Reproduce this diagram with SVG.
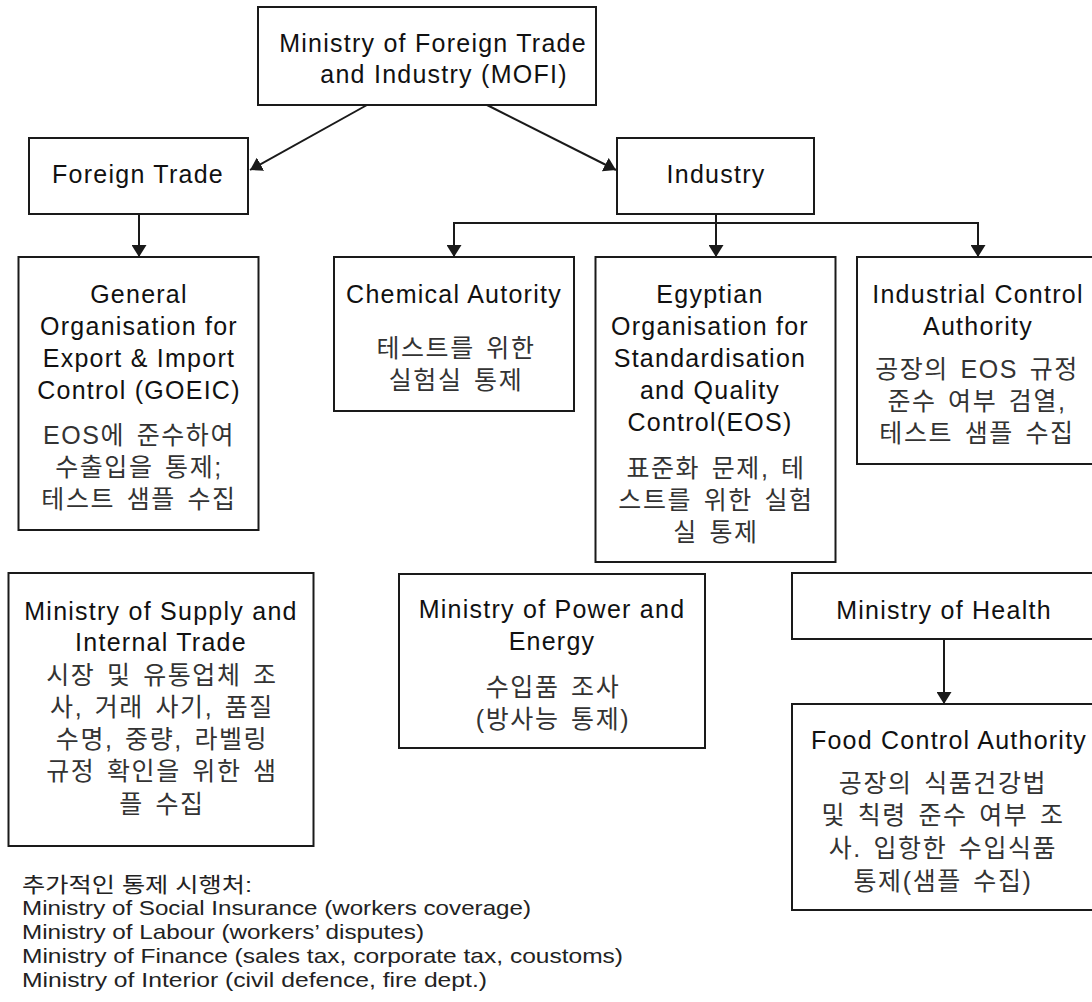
<svg xmlns="http://www.w3.org/2000/svg" width="1092" height="1002" viewBox="0 0 1092 1002">
<defs>
<style>
.box{fill:#fff;stroke:#1a1a1a;stroke-width:2}
.en{font-family:"Liberation Sans",Arial,sans-serif;font-size:25px;letter-spacing:1.25px;fill:#111;text-anchor:middle}
.ko{font-family:"Liberation Sans","Noto Sans CJK KR",sans-serif;font-size:25px;letter-spacing:1.6px;word-spacing:3px;fill:#333;text-anchor:middle}
.note{font-family:"Liberation Sans","Noto Sans CJK KR",sans-serif;font-size:21px;fill:#222}
.con{fill:none;stroke:#1a1a1a;stroke-width:2}
</style>
<marker id="ah" viewBox="0 0 12 15" markerWidth="12" markerHeight="15" refX="12" refY="7.5" orient="auto" markerUnits="userSpaceOnUse">
<path d="M0,0 L12,7.5 L0,15 z" fill="#1a1a1a"/>
</marker>
</defs>
<rect width="1092" height="1002" fill="#fff"/>

<g id="connectors">
<line class="con" x1="367" y1="105" x2="250" y2="170" marker-end="url(#ah)"/>
<line class="con" x1="487" y1="105" x2="616" y2="170" marker-end="url(#ah)"/>
<line class="con" x1="139" y1="214" x2="139" y2="257" marker-end="url(#ah)"/>
<line class="con" x1="716" y1="214" x2="716" y2="223"/>
<line class="con" x1="453" y1="223" x2="979" y2="223"/>
<line class="con" x1="454" y1="222" x2="454" y2="257" marker-end="url(#ah)"/>
<line class="con" x1="716" y1="222" x2="716" y2="257" marker-end="url(#ah)"/>
<line class="con" x1="978" y1="222" x2="978" y2="257" marker-end="url(#ah)"/>
<line class="con" x1="944" y1="639" x2="944" y2="704" marker-end="url(#ah)"/>
</g>

<g id="mofi">
<rect class="box" x="258" y="7" width="338" height="98"/>
<text class="en" x="433" y="52">Ministry of Foreign Trade</text>
<text class="en" x="444" y="83">and Industry (MOFI)</text>
</g>

<g id="foreign-trade">
<rect class="box" x="29" y="138" width="219" height="76"/>
<text class="en" x="138" y="183">Foreign Trade</text>
</g>

<g id="industry">
<rect class="box" x="617" y="138" width="197" height="76"/>
<text class="en" x="716" y="183">Industry</text>
</g>

<g id="goeic">
<rect class="box" x="18.5" y="257" width="240" height="273"/>
<text class="en" x="139" y="303">General</text>
<text class="en" x="139" y="335">Organisation for</text>
<text class="en" x="139" y="367">Export &amp; Import</text>
<text class="en" x="139" y="399">Control (GOEIC)</text>
<text class="ko" x="139" y="444">EOS에 준수하여</text>
<text class="ko" x="139" y="476">수출입을 통제;</text>
<text class="ko" x="139" y="508">테스트 샘플 수집</text>
</g>

<g id="chemical">
<rect class="box" x="334" y="257" width="240" height="154"/>
<text class="en" x="454" y="303">Chemical Autority</text>
<text class="ko" x="456" y="357">테스트를 위한</text>
<text class="ko" x="456" y="389">실험실 통제</text>
</g>

<g id="eos">
<rect class="box" x="595.5" y="257" width="240" height="305"/>
<text class="en" x="710" y="303">Egyptian</text>
<text class="en" x="710" y="335">Organisation for</text>
<text class="en" x="710" y="367">Standardisation</text>
<text class="en" x="710" y="399">and Quality</text>
<text class="en" x="710" y="431">Control(EOS)</text>
<text class="ko" x="716" y="477">표준화 문제, 테</text>
<text class="ko" x="716" y="509">스트를 위한 실험</text>
<text class="ko" x="716" y="541">실 통제</text>
</g>

<g id="industrial-control">
<rect class="box" x="857" y="257" width="250" height="207"/>
<text class="en" x="978" y="303">Industrial Control</text>
<text class="en" x="978" y="335">Authority</text>
<text class="ko" x="977" y="378">공장의 EOS 규정</text>
<text class="ko" x="977" y="410">준수 여부 검열,</text>
<text class="ko" x="977" y="442">테스트 샘플 수집</text>
</g>

<g id="supply">
<rect class="box" x="8.5" y="573" width="305" height="273"/>
<text class="en" x="161" y="620">Ministry of Supply and</text>
<text class="en" x="161" y="651">Internal Trade</text>
<text class="ko" x="162" y="684">시장 및 유통업체 조</text>
<text class="ko" x="162" y="716">사, 거래 사기, 품질</text>
<text class="ko" x="162" y="748">수명, 중량, 라벨링</text>
<text class="ko" x="162" y="780">규정 확인을 위한 샘</text>
<text class="ko" x="162" y="813">플 수집</text>
</g>

<g id="power">
<rect class="box" x="399" y="574" width="306" height="174"/>
<text class="en" x="552" y="618">Ministry of Power and</text>
<text class="en" x="552" y="650">Energy</text>
<text class="ko" x="553" y="696">수입품 조사</text>
<text class="ko" x="553" y="728">(방사능 통제)</text>
</g>

<g id="health">
<rect class="box" x="792" y="573" width="320" height="66"/>
<text class="en" x="944" y="619">Ministry of Health</text>
</g>

<g id="food">
<rect class="box" x="792" y="704" width="320" height="206"/>
<text class="en" x="949" y="749">Food Control Authority</text>
<text class="ko" x="943" y="792">공장의 식품건강법</text>
<text class="ko" x="943" y="824">및 칙령 준수 여부 조</text>
<text class="ko" x="943" y="857">사. 입항한 수입식품</text>
<text class="ko" x="943" y="890">통제(샘플 수집)</text>
</g>

<g id="notes">
<text class="note" x="22" y="892" font-size="20" textLength="230" lengthAdjust="spacingAndGlyphs">추가적인 통제 시행처:</text>
<text class="note" x="22" y="915" textLength="509" lengthAdjust="spacingAndGlyphs">Ministry of Social Insurance (workers coverage)</text>
<text class="note" x="22" y="939" textLength="402" lengthAdjust="spacingAndGlyphs">Ministry of Labour (workers’ disputes)</text>
<text class="note" x="22" y="963" textLength="601" lengthAdjust="spacingAndGlyphs">Ministry of Finance (sales tax, corporate tax, coustoms)</text>
<text class="note" x="22" y="987" textLength="465" lengthAdjust="spacingAndGlyphs">Ministry of Interior (civil defence, fire dept.)</text>
</g>
</svg>
